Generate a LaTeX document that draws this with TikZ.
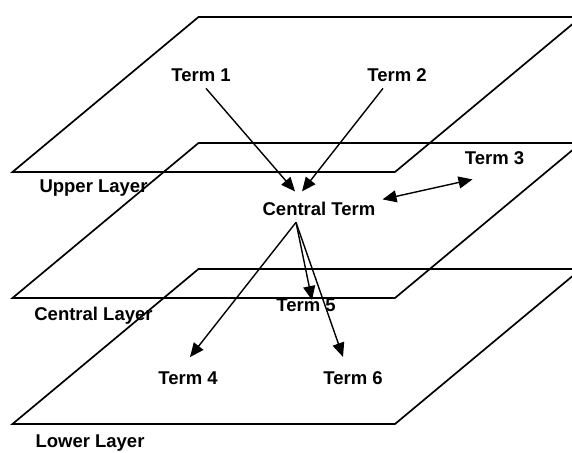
\documentclass[tikz,border=0pt]{standalone}
\usepackage{fontspec}
\setmainfont{Liberation Sans}
\usetikzlibrary{arrows.meta}
\tikzset{>={Triangle[length=14pt,width=12pt]},
  term/.style={anchor=base,font=\bfseries\fontsize{18.5}{21}\selectfont,inner sep=7pt},
  lbl/.style={anchor=base,font=\bfseries\fontsize{18.5}{21}\selectfont,inner sep=0pt},
  layer/.style={line width=1.7pt},flow/.style={->,line width=1.4pt}}

\begin{document}
\begin{tikzpicture}[x=1pt,y=-1pt]
\useasboundingbox (0,0) rectangle (572,452);
% the three planes
\foreach \yb in {172,298,424}
  \draw[layer] (12.5,\yb) -- (395,\yb) -- ++(186,-155) -- ++(-382.5,0) -- cycle;
\node[lbl] (upl) at (93.5,192) {Upper Layer};
\node[lbl] (cel) at (93.5,320) {Central Layer};
\node[lbl] (lol) at (90,447) {Lower Layer};
% terms
\node[term] (t1) at (201,81) {Term 1};
\node[term] (t2) at (397,81) {Term 2};
\node[term] (t3) at (494.5,164) {Term 3};
\node[term] (ct) at (319,215) {Central Term};
\node[term] (t5) at (306,311) {Term 5};
\node[term] (t4) at (188,384) {Term 4};
\node[term] (t6) at (353,384) {Term 6};
\draw[flow] ([xshift=5]t1.south)--([xshift=-24,yshift=3]ct.north);
\draw[flow] ([xshift=-14]t2.south)--([xshift=-17,yshift=3]ct.north);
\draw[flow,<->] ([yshift=9]ct.east)--([xshift=-22,yshift=-8]t3.south);
\draw[flow] ([xshift=-23]ct.south)--([xshift=2,yshift=7]t4.north);
\draw[flow] ([xshift=-23]ct.south)--([xshift=6,yshift=-9]t5.north);
\draw[flow] ([xshift=-23]ct.south)--([xshift=-10,yshift=7]t6.north);
\end{tikzpicture}
\end{document}
